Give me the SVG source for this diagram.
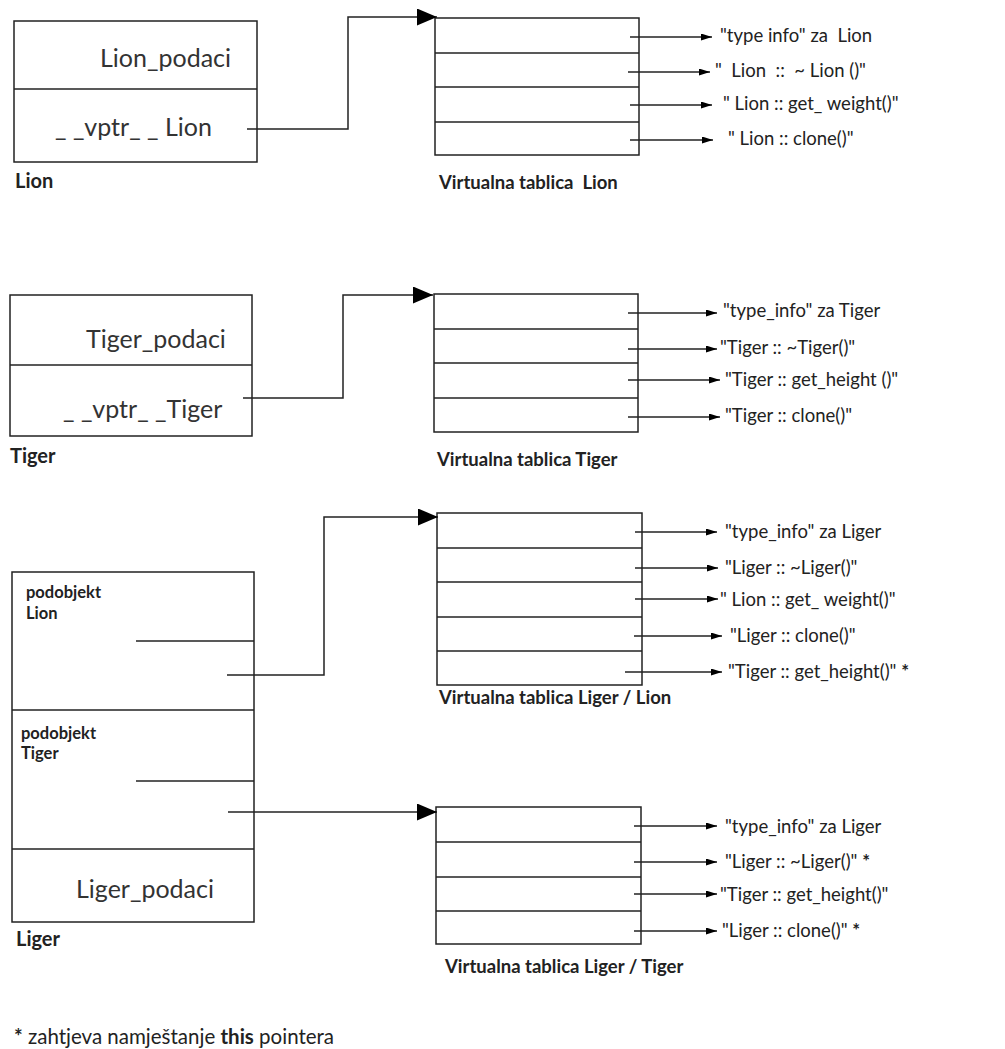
<svg xmlns="http://www.w3.org/2000/svg" width="1005" height="1049" viewBox="0 0 1005 1049">
<style>
text{font-family:Lato,"Open Sans","Liberation Sans",sans-serif;fill:#222;white-space:pre}
.big{font-size:25px;fill:#333}
.lab{font-size:18.5px}
.b{font-weight:bold}
.cap{font-size:18.5px;font-weight:bold}
.obj{font-size:20px;font-weight:bold}
.sub{font-size:16.5px;font-weight:bold}
.note{font-size:20.5px}
.box{fill:none;stroke:#222;stroke-width:1.5}
.ln{fill:none;stroke:#222;stroke-width:1.5}
</style>
<defs>
<marker id="big" markerUnits="userSpaceOnUse" markerWidth="20" markerHeight="17" refX="20" refY="8.5" orient="auto"><path d="M0,0 L20,8.5 L0,17 z" fill="#000"/></marker>
<marker id="sm" markerUnits="userSpaceOnUse" markerWidth="11" markerHeight="7" refX="11" refY="3.5" orient="auto"><path d="M0,0 L11,3.5 L0,7 z" fill="#000"/></marker>
</defs>
<rect width="1005" height="1049" fill="#fff"/>

<g id="lion">
<rect class="box" x="14" y="21" width="243" height="141"/>
<line class="ln" x1="14" y1="89" x2="257" y2="89"/>
<text class="big" x="100" y="67">Lion_podaci</text>
<text class="big" x="55" y="136">_ _vptr_ _ Lion</text>
<text class="obj" x="15" y="188">Lion</text>
</g>

<g id="vt-lion">
<rect class="box" x="435" y="18" width="204" height="137"/>
<line class="ln" x1="435" y1="53" x2="639" y2="53"/>
<line class="ln" x1="435" y1="87" x2="639" y2="87"/>
<line class="ln" x1="435" y1="122" x2="639" y2="122"/>
<text class="cap" x="439" y="189">Virtualna tablica  Lion</text>
<text class="lab" x="720" y="42">"type info" za  Lion</text>
<text class="lab" x="715" y="77">"  Lion  ::  ~ Lion ()"</text>
<text class="lab" x="723" y="110">" Lion :: get_ weight()"</text>
<text class="lab" x="728" y="145">" Lion :: clone()"</text>
</g>

<g id="tiger">
<rect class="box" x="10" y="295" width="242" height="141"/>
<line class="ln" x1="10" y1="365" x2="252" y2="365"/>
<text class="big" x="86" y="348">Tiger_podaci</text>
<text class="big" x="63" y="418">_ _vptr_ _Tiger</text>
<text class="obj" x="10" y="463">Tiger</text>
</g>

<g id="vt-tiger">
<rect class="box" x="434" y="294" width="204" height="138"/>
<line class="ln" x1="434" y1="329" x2="638" y2="329"/>
<line class="ln" x1="434" y1="363" x2="638" y2="363"/>
<line class="ln" x1="434" y1="398" x2="638" y2="398"/>
<text class="cap" x="437" y="466">Virtualna tablica Tiger</text>
<text class="lab" x="723" y="317">"type_info" za Tiger</text>
<text class="lab" x="720" y="354">"Tiger :: ~Tiger()"</text>
<text class="lab" x="725" y="386">"Tiger :: get_height ()"</text>
<text class="lab" x="725" y="422">"Tiger :: clone()"</text>
</g>

<g id="liger">
<rect class="box" x="12" y="572" width="242" height="350"/>
<line class="ln" x1="12" y1="710" x2="254" y2="710"/>
<line class="ln" x1="12" y1="849" x2="254" y2="849"/>
<line class="ln" x1="136" y1="641" x2="254" y2="641"/>
<line class="ln" x1="136" y1="781" x2="254" y2="781"/>
<text class="sub" x="26" y="598">podobjekt</text>
<text class="sub" x="26" y="619">Lion</text>
<text class="sub" x="21" y="739">podobjekt</text>
<text class="sub" x="21" y="759">Tiger</text>
<text class="big" x="76" y="898">Liger_podaci</text>
<text class="obj" x="16" y="946">Liger</text>
</g>

<g id="vt-liger-lion">
<rect class="box" x="437" y="513" width="205" height="172"/>
<line class="ln" x1="437" y1="548" x2="642" y2="548"/>
<line class="ln" x1="437" y1="582" x2="642" y2="582"/>
<line class="ln" x1="437" y1="617" x2="642" y2="617"/>
<line class="ln" x1="437" y1="651" x2="642" y2="651"/>
<text class="cap" x="439" y="704">Virtualna tablica Liger / Lion</text>
<text class="lab" x="725" y="538">"type_info" za Liger</text>
<text class="lab" x="725" y="574">"Liger :: ~Liger()"</text>
<text class="lab" x="720" y="606">" Lion :: get_ weight()"</text>
<text class="lab" x="730" y="642">"Liger :: clone()"</text>
<text class="lab" x="728" y="678">"Tiger :: get_height()" <tspan class="b">*</tspan></text>
</g>

<g id="vt-liger-tiger">
<rect class="box" x="436" y="807" width="205" height="137"/>
<line class="ln" x1="436" y1="842" x2="641" y2="842"/>
<line class="ln" x1="436" y1="877" x2="641" y2="877"/>
<line class="ln" x1="436" y1="911" x2="641" y2="911"/>
<text class="cap" x="445" y="973">Virtualna tablica Liger / Tiger</text>
<text class="lab" x="725" y="833">"type_info" za Liger</text>
<text class="lab" x="725" y="868">"Liger :: ~Liger()" <tspan class="b">*</tspan></text>
<text class="lab" x="720" y="901">"Tiger :: get_height()"</text>
<text class="lab" x="722" y="937">"Liger :: clone()" <tspan class="b">*</tspan></text>
</g>

<g id="note">
<text class="note" x="14" y="1044"><tspan class="b">*</tspan> zahtjeva namještanje <tspan class="b">this</tspan> pointera</text>
</g>

<g id="connectors">
<path class="ln" d="M247,129 H348 V17 H437" marker-end="url(#big)"/>
<path class="ln" d="M243,398 H343 V295 H433" marker-end="url(#big)"/>
<path class="ln" d="M227,675 H324 V517 H438" marker-end="url(#big)"/>
<path class="ln" d="M228,812 H437" marker-end="url(#big)"/>

<path class="ln" d="M630,37 H712" marker-end="url(#sm)"/>
<path class="ln" d="M628,72 H710" marker-end="url(#sm)"/>
<path class="ln" d="M630,105 H712" marker-end="url(#sm)"/>
<path class="ln" d="M630,140 H713" marker-end="url(#sm)"/>

<path class="ln" d="M628,313 H717" marker-end="url(#sm)"/>
<path class="ln" d="M628,349 H717" marker-end="url(#sm)"/>
<path class="ln" d="M628,380 H720" marker-end="url(#sm)"/>
<path class="ln" d="M628,417 H720" marker-end="url(#sm)"/>

<path class="ln" d="M635,532 H717" marker-end="url(#sm)"/>
<path class="ln" d="M635,568 H718" marker-end="url(#sm)"/>
<path class="ln" d="M635,599 H718" marker-end="url(#sm)"/>
<path class="ln" d="M634,636 H722" marker-end="url(#sm)"/>
<path class="ln" d="M625,672 H722" marker-end="url(#sm)"/>

<path class="ln" d="M634,826 H717" marker-end="url(#sm)"/>
<path class="ln" d="M634,862 H717" marker-end="url(#sm)"/>
<path class="ln" d="M634,894 H717" marker-end="url(#sm)"/>
<path class="ln" d="M634,931 H717" marker-end="url(#sm)"/>
</g>
</svg>
